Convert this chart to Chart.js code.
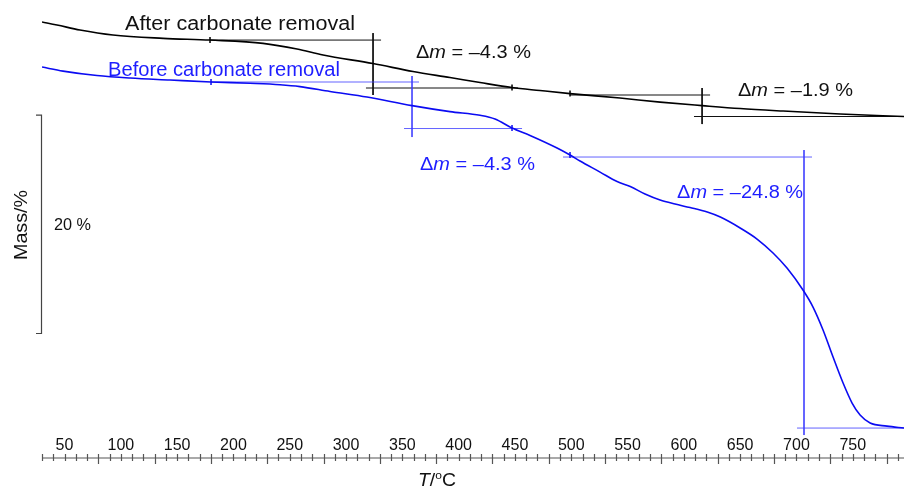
<!DOCTYPE html>
<html>
<head>
<meta charset="utf-8">
<script src="https://cdn.jsdelivr.net/npm/chart.js@4.4.1/dist/chart.umd.min.js"></script>
<style>
    html, body { margin: 0; padding: 0; background: #fff; }
    canvas { display: block; }
</style>
</head>
<body>
<canvas id="tgaChart" width="904" height="488"></canvas>
<script>
// Temperature (°C) / mass (%)
const tempsBefore = [30, 48.7, 78.8, 108.2, 143.7, 180.1, 214.7, 241.4, 259.1, 285.8, 318.6, 358.6, 392.3, 419.0, 432.3,
    447.4, 463.4, 487.4, 498.9, 507.8, 525.6, 540.7, 552.4, 565.5, 578.9, 592.2, 605.5, 620.8, 632.4, 650.0,
    665.0, 679.2, 691.6, 705.8, 714.7, 723.6, 732.5, 741.4, 749.4, 756.5, 765.4, 780.4, 795.5];
const massBefore = [100.00, 99.63, 99.22, 98.99, 98.81, 98.63, 98.51, 98.38, 98.21, 97.76, 97.25, 96.47, 95.92, 95.58, 95.24,
    94.41, 93.73, 92.58, 91.94, 91.39, 90.38, 89.51, 89.06, 88.37, 87.82, 87.45, 87.13, 86.72, 86.26, 85.26,
    84.25, 82.97, 81.59, 79.58, 78.02, 75.92, 73.44, 71.06, 69.23, 68.13, 67.40, 67.12, 66.94];

const tempsAfter = [30, 43.3, 63.7, 93.0, 137.5, 179.2, 226.3, 256.5, 279.6, 323.9, 359.5, 392.3, 419.0, 447.4, 472.2,
    498.9, 543.3, 578.9, 616.2, 650.0, 688.2, 738.8, 795.5];
const massAfter = [100.00, 99.73, 99.27, 98.81, 98.51, 98.35, 98.05, 97.53, 96.98, 96.20, 95.47, 94.92, 94.46, 94.00, 93.73,
    93.45, 93.04, 92.67, 92.35, 92.08, 91.85, 91.58, 91.35];

// Step construction lines [[T1, m1], [T2, m2]]
const guidesBefore = [
    [[180.1, 98.63], [364.8, 98.63]],
    [[358.6, 99.18], [358.6, 93.59]],
    [[351.5, 94.37], [456.3, 94.37]],
    [[492.7, 91.76], [713.8, 91.76]],
    [[706.7, 92.40], [706.7, 66.30]],
    [[700.5, 66.94], [795.5, 66.94]],
];
const guidesAfter = [
    [[179.2, 98.35], [331.1, 98.35]],
    [[324.0, 98.99], [324.0, 93.32]],
    [[317.7, 93.96], [452.7, 93.96]],
    [[498.9, 93.32], [623.3, 93.32]],
    [[616.2, 93.96], [616.2, 90.66]],
    [[609.0, 91.35], [795.5, 91.35]],
];

// Onset marks on the curves
const marksBeforeT = [180.1, 447.4, 498.9];
const marksBeforeM = [98.63, 94.41, 91.94];
const marksAfterT = [179.2, 447.4, 498.9];
const marksAfterM = [98.35, 94.00, 93.45];

const stepLabelsBefore = ["–4.3 %", "–24.8 %"];
const stepLabelsAfter = ["–4.3 %", "–1.9 %"];

const tickLabels = [50, 100, 150, 200, 250, 300, 350, 400, 450, 500, 550, 600, 650, 700, 750];

// the "after" curve is drawn shifted up for display
const AFTER_SHIFT = 4.12;

const BLUE = "#0b0bf2";
const BLUE_GUIDE = "rgba(60, 60, 255, 0.8)";
const BLUE_TEXT = "#1e1eff";
const FONT = '"Liberation Sans", Arial, Helvetica, sans-serif';

const pts = (ts, ms, shift = 0) => ts.map((t, i) => ({ x: t, y: ms[i] + shift }));

const datasets = [];

datasets.push({
    data: pts(tempsBefore, massBefore),
    showLine: true, borderColor: BLUE, borderWidth: 1.6, pointRadius: 0,
    cubicInterpolationMode: "monotone", order: 0,
});
datasets.push({
    data: pts(tempsAfter, massAfter, AFTER_SHIFT),
    showLine: true, borderColor: "#000", borderWidth: 1.6, pointRadius: 0,
    cubicInterpolationMode: "monotone", order: 0,
});

guidesBefore.forEach((g) => {
    datasets.push({
        data: g.map((p) => ({ x: p[0], y: p[1] })),
        showLine: true, borderColor: BLUE_GUIDE, borderWidth: 1, pointRadius: 0, order: 2,
    });
});
guidesAfter.forEach((g) => {
    datasets.push({
        data: g.map((p) => ({ x: p[0], y: p[1] + AFTER_SHIFT })),
        showLine: true, borderColor: "#111", borderWidth: 1, pointRadius: 0, order: 2,
    });
});

datasets.push({
    data: pts(marksBeforeT, marksBeforeM),
    pointStyle: "line", rotation: 90, pointRadius: 3, borderColor: BLUE, borderWidth: 1.5, order: 1,
});
datasets.push({
    data: pts(marksAfterT, marksAfterM, AFTER_SHIFT),
    pointStyle: "line", rotation: 90, pointRadius: 3, borderColor: "#000", borderWidth: 1.5, order: 1,
});

/*
 * Draw text made of runs (italic / superscript), squeezed to a width */
function drawRuns(ctx, runs, x, y, size, width, color) {
    ctx.save();
    ctx.fillStyle = color;
    ctx.textBaseline = "alphabetic";
    let total = 0;
    runs.forEach((r) => {
        ctx.font = (r.i ? "italic " : "") + size * (r.s || 1) + "px " + FONT;
        r.w = ctx.measureText(r.t).width;
        total += r.w;
    });
    ctx.translate(x, y);
    if (width) ctx.scale(width / total, 1);
    let cx = 0;
    runs.forEach((r) => {
        ctx.font = (r.i ? "italic " : "") + size * (r.s || 1) + "px " + FONT;
        ctx.fillText(r.t, cx, r.dy || 0);
        cx += r.w;
    });
    ctx.restore();
}

const dm = (v) => [{ t: "Δ" }, { t: "m", i: true }, { t: " = " + v }];

const decorations = {
    id: "decorations",
    afterDraw(chart) {
        const { ctx, scales: { x, y } } = chart;

        // temperature axis
        const axisY = 458;
        ctx.save();
        ctx.strokeStyle = "#555";
        ctx.lineWidth = 1.2;
        ctx.beginPath();
        ctx.moveTo(x.getPixelForValue(30), axisY);
        ctx.lineTo(904, axisY);
        for (let t = 30; t <= 790; t += 10) {
            const px = Math.round(x.getPixelForValue(t)) + 0.5;
            const long = t > 30 && (t - 30) % 50 === 0;
            ctx.moveTo(px, axisY - 4);
            ctx.lineTo(px, long ? axisY + 6 : axisY + 3);
        }
        ctx.stroke();
        ctx.restore();

        ctx.save();
        ctx.fillStyle = "#111";
        ctx.font = "16px " + FONT;
        ctx.textAlign = "center";
        tickLabels.forEach((t) => ctx.fillText(String(t), x.getPixelForValue(t), 450));
        ctx.restore();

        drawRuns(ctx, [{ t: "T", i: true }, { t: "/" }, { t: "o", s: 0.62, dy: -7 }, { t: "C" }], 418, 486, 19, 38, "#111");

        // 20 % scale bar
        const top = y.getPixelForValue(95.6);
        const bot = y.getPixelForValue(75.6);
        ctx.save();
        ctx.strokeStyle = "#444";
        ctx.lineWidth = 1.2;
        ctx.beginPath();
        ctx.moveTo(36, top);
        ctx.lineTo(41.5, top);
        ctx.lineTo(41.5, bot);
        ctx.lineTo(36, bot);
        ctx.stroke();
        ctx.restore();
        drawRuns(ctx, [{ t: "20 %" }], 54, 230, 16, 37, "#111");

        ctx.save();
        ctx.translate(27, 225);
        ctx.rotate(-Math.PI / 2);
        drawRuns(ctx, [{ t: "Mass/%" }], -35, 0, 19, 70, "#111");
        ctx.restore();

        // curve names and step labels
        drawRuns(ctx, [{ t: "After carbonate removal" }], 125, 30, 20, 230, "#111");
        drawRuns(ctx, [{ t: "Before carbonate removal" }], 108, 76, 20, 232, BLUE_TEXT);

        drawRuns(ctx, dm(stepLabelsAfter[0]), x.getPixelForValue(362.1), y.getPixelForValue(96.70 + AFTER_SHIFT), 18, 115, "#111");
        drawRuns(ctx, dm(stepLabelsAfter[1]), x.getPixelForValue(648.1), y.getPixelForValue(93.22 + AFTER_SHIFT), 18, 115, "#111");
        drawRuns(ctx, dm(stepLabelsBefore[0]), x.getPixelForValue(365.7), y.getPixelForValue(90.57), 18, 115, BLUE_TEXT);
        drawRuns(ctx, dm(stepLabelsBefore[1]), x.getPixelForValue(594.0), y.getPixelForValue(88.00), 18, 126, BLUE_TEXT);
    },
};

const ctx = document.getElementById("tgaChart");

new Chart(ctx, {
    type: "scatter",
    data: { datasets },
    options: {
        responsive: false,
        animation: false,
        devicePixelRatio: 1,
        layout: { autoPadding: false, padding: { left: 42, right: 0, top: 0, bottom: 0 } },
        scales: {
            x: { type: "linear", display: false, min: 30, max: 795.5 },
            y: { type: "linear", display: false, min: 61.45, max: 106.14 },
        },
        plugins: {
            legend: { display: false },
            tooltip: { enabled: false },
        },
    },
    plugins: [decorations],
});
</script>
</body>
</html>
